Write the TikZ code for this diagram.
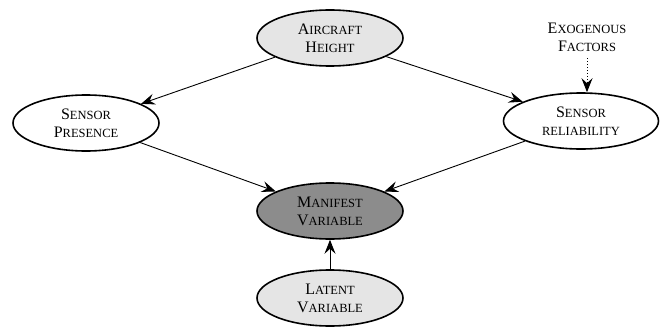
\documentclass[tikz,border=0pt]{standalone}
\usepackage{fontspec}
\setmainfont{Liberation Serif}
\usetikzlibrary{shapes.geometric,arrows.meta}
\newcommand\fsc[2]{#1{\fontsize{12.5}{14}\selectfont #2}}
\tikzset{
  var/.style = {ellipse, draw, line width=1.6pt, minimum width=#1,
                minimum height=56pt, inner sep=0pt, align=center,
                font=\fontsize{16}{18}\selectfont},
  var/.default = 146pt,
  link/.style = {line width=0.9pt, -{Stealth[length=14pt,width=11pt,inset=5pt]}}
}

\begin{document}
\begin{tikzpicture}[x=1pt,y=-1pt]
	\useasboundingbox (0,0) rectangle (661,329);
	\def \lite{black!10}
	\def \dark{black!45}

	% Nodes
	\node[var, fill=\lite] (height) at (330,38) {\fsc{A}{IRCRAFT}\\\fsc{H}{EIGHT}};
	\node[var, fill=white] (presence) at (86,123) {\fsc{S}{ENSOR}\\\fsc{P}{RESENCE}};
	\node[var=155pt, fill=white] (reliab) at (581,121) {\fsc{S}{ENSOR}\\{\fontsize{12.5}{14}\selectfont RELIABILITY}};
	\node[var, fill=\dark] (manifest) at (330,211) {\fsc{M}{ANIFEST}\\\fsc{V}{ARIABLE}};
	\node[var, fill=\lite] (latent) at (330,298) {\fsc{L}{ATENT}\\\fsc{V}{ARIABLE}};
	\node[align=center, font=\fontsize{16}{18}\selectfont, inner sep=1pt] (exo) at (587,37) {\fsc{E}{XOGENOUS}\\\fsc{F}{ACTORS}};
	\coordinate (exotop) at ([yshift=-6pt]exo.south);

	% Links
	\draw[link] (height) -- (presence);
	\draw[link] (height) -- (reliab);
	\draw[link] (presence) -- (manifest);
	\draw[link] (reliab) -- (manifest);
	\draw[link] (latent) -- (manifest);
	\draw[link, dotted] (exotop) -- (exotop |- reliab.north);
\end{tikzpicture}
\end{document}
